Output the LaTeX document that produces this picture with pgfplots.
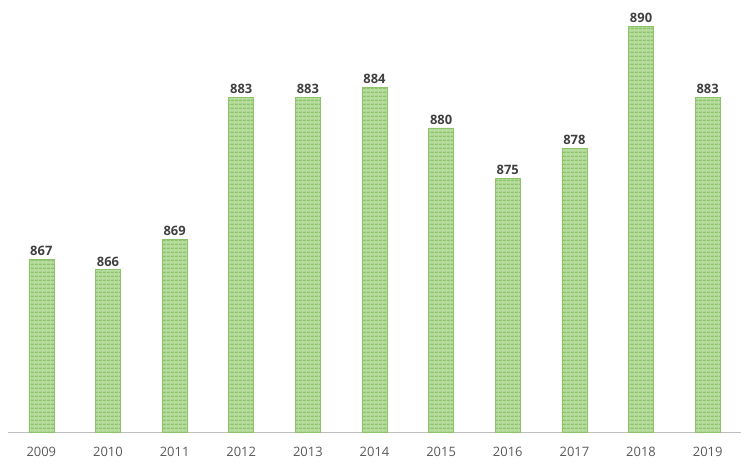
\documentclass[border=0pt]{standalone}
\usepackage{pgfplots}
\pgfplotsset{compat=1.18}
\usetikzlibrary{patterns.meta}
\usepackage{fontspec}
\setmainfont{Open Sans}
\definecolor{barfill}{HTML}{B8DD9F}
\definecolor{barline}{HTML}{8CC46C}
\definecolor{lbl}{HTML}{404040}
\definecolor{tck}{HTML}{595959}
\definecolor{axl}{HTML}{BFBFBF}
\begin{document}
\begin{tikzpicture}
\path[use as bounding box] (0,0) rectangle (750bp,475bp);
\begin{axis}[
  at={(8bp,43bp)}, anchor=south west,
  scale only axis, width=733bp, height=432bp,
  xmin=-0.5, xmax=10.5, ymin=850, ymax=892.6,
  axis x line*=bottom, axis y line=none,
  x axis line style={draw=axl, line width=0.8pt, -},
  xtick=data, xticklabels={2009,2010,2011,2012,2013,2014,2015,2016,2017,2018,2019},
  major tick length=0pt,
  xticklabel style={font=\fontsize{13}{15}\selectfont, text=tck, yshift=-12bp},
  ybar, bar width=25bp,
  /pgf/number format/assume math mode=true,
  nodes near coords,
  nodes near coords style={font=\fontsize{13}{15}\selectfont\bfseries, text=lbl, yshift=0bp},
  clip=false,
]
\addplot[fill=barfill, draw=barline, line width=0.5pt,
  postaction={pattern={Lines[angle=0,distance=3.6bp,line width=1.4bp]}, pattern color=barline}]
  coordinates {(0,867) (1,866) (2,869) (3,883) (4,883) (5,884) (6,880) (7,875) (8,878) (9,890) (10,883)};
\end{axis}
\end{tikzpicture}
\end{document}
